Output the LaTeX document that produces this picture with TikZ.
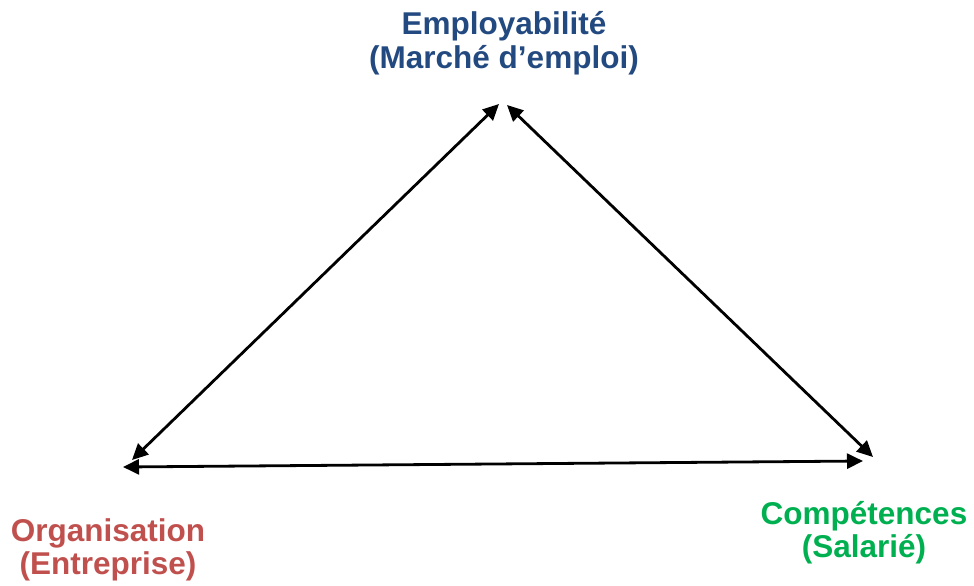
\documentclass[tikz,border=0pt]{standalone}
\usepackage{fontspec}
\setmainfont{Liberation Sans}
\usetikzlibrary{arrows.meta}
\definecolor{empblue}{RGB}{35,74,128}
\definecolor{orgred}{RGB}{192,80,77}
\definecolor{compgreen}{RGB}{0,176,80}
\tikzset{
  label/.style={font=\fontsize{31.5}{33}\selectfont\bfseries, align=center, inner sep=0pt, anchor=base},
  link/.style={line width=2.8pt, {Triangle[length=16pt,width=15pt]}-{Triangle[length=16pt,width=15pt]}}
}
\begin{document}
\begin{tikzpicture}[x=1pt,y=-1pt]
\useasboundingbox (0,0) rectangle (974,586);
\node[label, text=empblue] (emp) at (504,68) {Employabilité\\(Marché d’emploi)};
\node[label, text=orgred] (org) at (108,574) {Organisation\\(Entreprise)};
\node[label, text=compgreen] (comp) at (864,557) {Compétences\\(Salarié)};
\coordinate (topL) at (499,104);
\coordinate (topR) at (507,105);
\coordinate (orgA) at (132,460);
\coordinate (orgB) at (123,467);
\coordinate (compA) at (873,457);
\coordinate (compB) at (863,461);
\draw[link] (topL) -- (orgA);
\draw[link] (topR) -- (compA);
\draw[link] (orgB) -- (compB);
\end{tikzpicture}
\end{document}
